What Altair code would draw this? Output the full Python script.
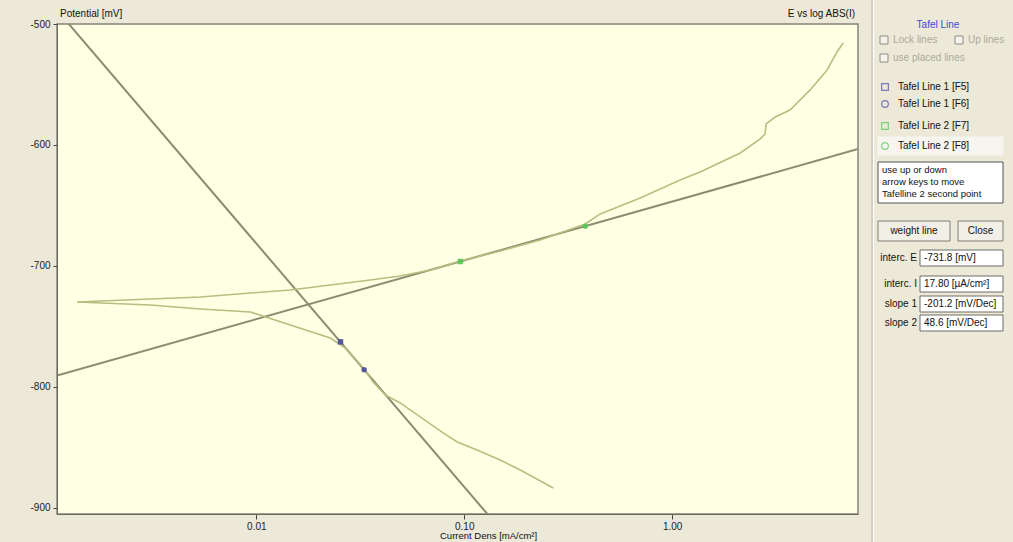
import numpy as np
import pandas as pd
import altair as alt

FONT = "Liberation Sans"

# Polarisation scan: current density in mA/cm², potential in mV
anodic_I = [0.001377, 0.00309, 0.00538, 0.00936, 0.01456, 0.0227, 0.0353, 0.0492,
            0.0687, 0.0958, 0.149, 0.232, 0.382, 0.451, 0.702, 1.092, 1.363, 2.125,
            2.65, 2.80, 2.83, 3.13, 3.69, 4.61, 5.56, 6.21, 6.64]
anodic_E = [-729.8, -727.3, -725.6, -722.3, -719.8, -715.7, -711.6, -708.3,
            -703.3, -695.9, -687.6, -678.5, -665.3, -657.0, -643.8, -628.9, -622.3, -606.6,
            -595.0, -590.9, -582.6, -576.9, -571.1, -554.5, -538.0, -523.1, -515.7]
cathodic_I = [0.001377, 0.00309, 0.00538, 0.00936, 0.01456, 0.0227, 0.0268, 0.0334,
              0.0361, 0.0417, 0.0492, 0.0614, 0.0792, 0.0925, 0.1153, 0.149, 0.186, 0.268]
cathodic_E = [-729.8, -732.2, -735.5, -738.0, -748.8, -759.5, -767.8, -786.0,
              -795.0, -806.6, -813.2, -824.8, -838.0, -845.5, -852.1, -860.3, -868.6, -883.5]

# Tafel fit results
E_corr = -731.8          # mV
I_corr_uA = 17.80        # µA/cm²
slope_1 = -201.2         # mV/Dec
slope_2 = 48.6           # mV/Dec

# Points that define each Tafel line
line1_pts_I = [0.0254, 0.0330]
line1_pts_E = [-762.7, -785.8]
line2_pts_I = [0.0958, 0.382]
line2_pts_E = [-696.3, -667.1]

x_domain = [0.0011, 7.83]
y_domain = [-905, -500]
y_ticks = [-500, -600, -700, -800, -900]
x_ticks = [0.01, 0.1, 1.0]

W, H = 801, 490

curve = pd.concat([
    pd.DataFrame({"I": anodic_I, "E": anodic_E, "branch": "anodic",
                  "k": range(len(anodic_I))}),
    pd.DataFrame({"I": cathodic_I, "E": cathodic_E, "branch": "cathodic",
                  "k": range(len(cathodic_I))}),
])

i_corr = I_corr_uA / 1000.0
ends = np.array(x_domain)
tafel = pd.concat([
    pd.DataFrame({"I": ends, "E": E_corr + slope_1 * (np.log10(ends) - np.log10(i_corr)), "line": "1"}),
    pd.DataFrame({"I": ends, "E": E_corr + slope_2 * (np.log10(ends) - np.log10(i_corr)), "line": "2"}),
])

x_enc = alt.X("I:Q", scale=alt.Scale(type="log", domain=x_domain, nice=False),
              axis=alt.Axis(values=x_ticks, format=".2f", title=None, grid=False,
                            tickSize=5, labelPadding=2, labelFont=FONT, labelFontSize=10,
                            labelColor="#222", tickColor="#444", domainColor="#6B6B5A", zindex=1))
y_enc = alt.Y("E:Q", scale=alt.Scale(domain=y_domain, nice=False, zero=False),
              axis=alt.Axis(values=y_ticks, labelExpr="toString(datum.value)", title=None, grid=False,
                            tickSize=4, labelPadding=3, labelFont=FONT, labelFontSize=10,
                            labelColor="#222", tickColor="#444", domainColor="#6B6B5A", zindex=1))

tafel_layer = alt.Chart(tafel).mark_line(color="#8C8C72", strokeWidth=2, clip=True).encode(
    x=x_enc, y=y_enc, detail="line:N")

curve_layer = alt.Chart(curve).mark_line(color="#B5BF80", strokeWidth=1.6, clip=True).encode(
    x="I:Q", y="E:Q", detail="branch:N", order="k:Q")

pts1 = pd.DataFrame({"I": line1_pts_I, "E": line1_pts_E, "s": ["square", "circle"]})
pts2 = pd.DataFrame({"I": line2_pts_I, "E": line2_pts_E, "s": ["square", "circle"]})
pts1_layer = alt.Chart(pts1).mark_point(filled=True, color="#4A4A9A", size=30, opacity=0.9).encode(
    x="I:Q", y="E:Q", shape=alt.Shape("s:N", scale=None))
pts2_layer = alt.Chart(pts2).mark_point(filled=True, color="#55C855", size=30, opacity=0.9).encode(
    x="I:Q", y="E:Q", shape=alt.Shape("s:N", scale=None))


def text_at(s, x, y, color="#111", align="left", size=10, baseline="middle"):
    return alt.Chart(pd.DataFrame({"s": [s]})).mark_text(
        align=align, baseline=baseline, fontSize=size, color=color, font=FONT
    ).encode(text="s:N", x=alt.value(x), y=alt.value(y))


def box_at(x1, x2, y1, y2, fill, stroke, sw=1):
    return alt.Chart(pd.DataFrame({"k": [0]})).mark_rect(
        fill=fill, stroke=stroke, strokeWidth=sw
    ).encode(x=alt.value(x1), x2=alt.value(x2), y=alt.value(y1), y2=alt.value(y2))


def rule_at(x, y1, y2, color):
    return alt.Chart(pd.DataFrame({"k": [0]})).mark_rule(color=color, strokeWidth=1).encode(
        x=alt.value(x), y=alt.value(y1), y2=alt.value(y2))


def icon_at(x, y, shape, color):
    return alt.Chart(pd.DataFrame({"k": [0]})).mark_point(
        shape=shape, filled=False, color=color, size=45, strokeWidth=1.2
    ).encode(x=alt.value(x), y=alt.value(y))


# Frame titles
titles = [
    text_at("Potential [mV]", 3, -5, baseline="bottom"),
    text_at("E vs log ABS(I)", 798, -5, align="right", baseline="bottom"),
    text_at("Current Dens [mA/cm²]", 383, 512, baseline="middle", size=9.5),
]

# Side panel
gray_txt = "#ABA99C"
panel = [
    rule_at(815, -24, 518, "#B9B6A6"),
    rule_at(816.5, -24, 518, "#FFFFFF"),
    text_at("Tafel Line", 881, 1, color="#4646D8", align="center"),
    box_at(823, 831, 12, 20, "#F4F3EE", "#8E8C80"),
    text_at("Lock lines", 836, 16, color=gray_txt),
    box_at(898, 906, 12, 20, "#F4F3EE", "#8E8C80"),
    text_at("Up lines", 911, 16, color=gray_txt),
    box_at(823, 831, 30, 38, "#F4F3EE", "#8E8C80"),
    text_at("use placed lines", 836, 34, color=gray_txt),
    box_at(821, 946, 113, 131, "#F6F5EF", "#F6F5EF"),
    icon_at(828, 63, "square", "#4A4AB0"),
    text_at("Tafel Line 1 [F5]", 841, 63),
    icon_at(828, 80, "circle", "#4A4AB0"),
    text_at("Tafel Line 1 [F6]", 841, 80),
    icon_at(828, 102, "square", "#4FC84F"),
    text_at("Tafel Line 2 [F7]", 841, 102),
    icon_at(828, 122, "circle", "#4FC84F"),
    text_at("Tafel Line 2 [F8]", 841, 122),
    box_at(821, 946, 138, 179, "#FFFFFF", "#555555"),
    text_at("use up or down", 825, 146, size=9.5),
    text_at("arrow keys to move", 825, 158, size=9.5),
    text_at("Tafelline 2 second point", 825, 170, size=9.5),
    box_at(821, 893, 197, 217, "#F1EFE6", "#7F7E76"),
    text_at("weight line", 857, 207, align="center"),
    box_at(901, 946, 197, 217, "#F1EFE6", "#7F7E76"),
    text_at("Close", 923.5, 207, align="center"),
]

field_labels = ["interc. E", "interc. I", "slope 1", "slope 2"]
field_values = [f"{E_corr:.1f} [mV]", f"{I_corr_uA:.2f} [µA/cm²]",
                f"{slope_1:.1f} [mV/Dec]", f"{slope_2:.1f} [mV/Dec]"]
field_rows = [234, 260, 280, 299]
for lab, val, yy in zip(field_labels, field_values, field_rows):
    panel.append(text_at(lab, 860, yy, align="right"))
    panel.append(box_at(863, 946, yy - 8, yy + 8, "#FFFFFF", "#6E6D66"))
    panel.append(text_at(val, 867, yy))

chart = alt.layer(
    tafel_layer, curve_layer, pts1_layer, pts2_layer, *titles, *panel
).properties(
    width=W, height=H,
    background="#ECE9D8",
    padding={"left": 57, "top": 24, "right": 155, "bottom": 28},
    autosize=alt.AutoSizeParams(type="none"),
).configure_view(
    fill="#FFFFE3", stroke="#85857A", strokeWidth=1.5
)

chart.save("out.html", embed_options={"renderer": "svg", "actions": False})
